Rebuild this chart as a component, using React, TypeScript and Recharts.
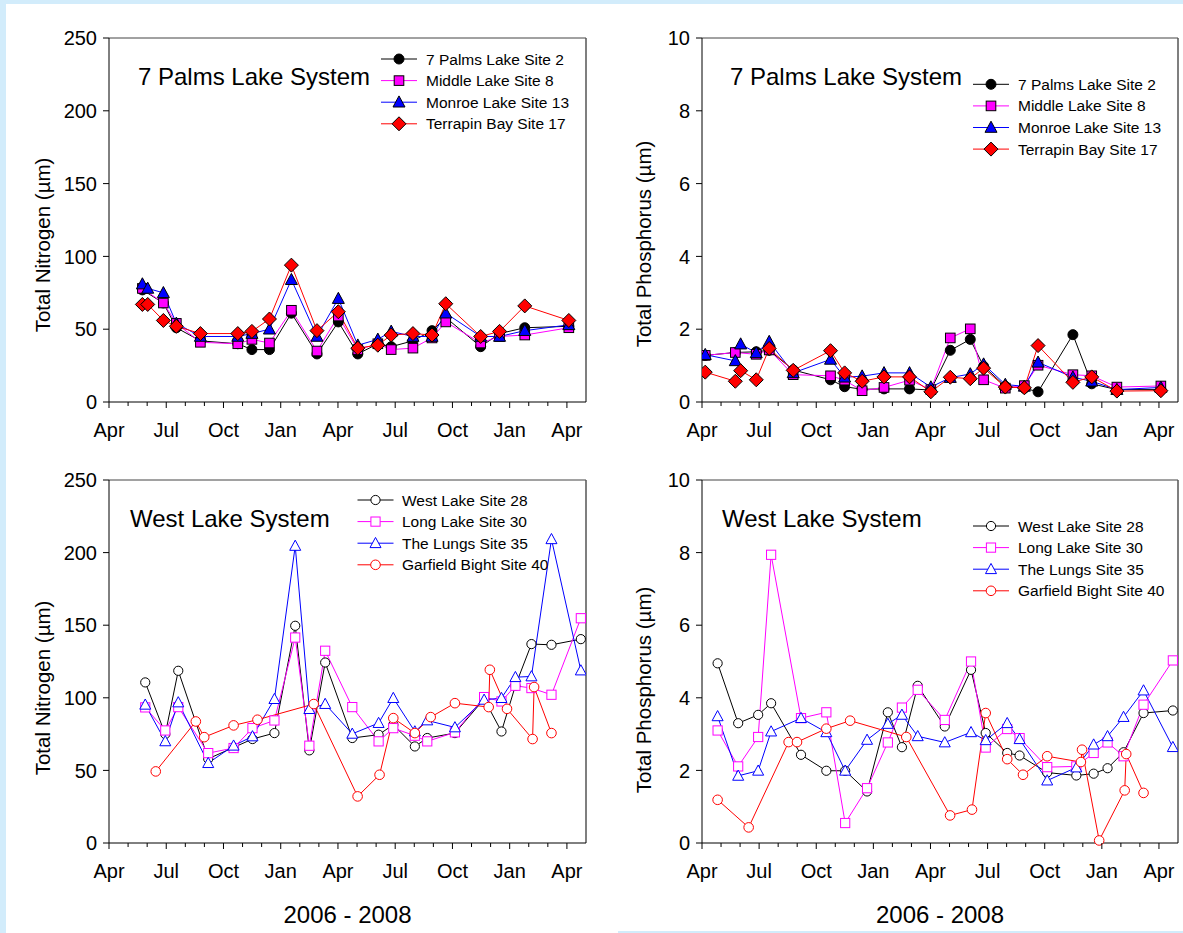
import React from 'react';
import { LineChart, Line, XAxis, YAxis, ReferenceLine } from 'recharts';

const FONT = 'Arial, "Liberation Sans", Helvetica, sans-serif';

// x values are months counted from 1 Apr 2006
const monthTicks = [0, 1, 2, 3, 4, 5, 6, 7, 8, 9, 10, 11, 12, 13, 14, 15, 16, 17, 18, 19, 20, 21, 22, 23, 24];
const monthLabels = ['Apr', 'Jul', 'Oct', 'Jan', 'Apr', 'Jul', 'Oct', 'Jan', 'Apr'];
const tnTicks = [0, 50, 100, 150, 200, 250];
const tpTicks = [0, 2, 4, 6, 8, 10];

// 7 Palms Lake System sampling dates
const palmsDates = [0.17, 1.75, 2.03, 2.85, 3.53, 4.79, 6.75, 7.49, 8.41, 9.56, 10.9, 12.02, 13.04, 14.09, 14.79, 15.93, 16.93, 17.65, 19.48, 20.47, 21.79, 24.1];
const tnSite2 = [null, 77, null, 68, 51, 42, 40, 36, 36, 61, 33, 55, 33, 40, 38, 42, 49, 58, 38, 47, 51, 52];
const tnSite8 = [null, 78, null, 68, 54, 41, 40, 43, 40.5, 63, 35, 59, 36, 40, 36, 37, 44, 55, 40.5, 45, 46, 51];
const tnSite13 = [null, 81, 78, 75, 54, 45, 45, 47, 50, 84, 45, 71, 39, 43, 48.5, 45, 45, 61, 45, 45, 49, 53];
const tnSite17 = [null, 67, 67, 56, 52, 47, 47, 48.5, 57, 94, 49, 62, 37, 39, 46, 47, 46, 67.5, 45, 48.5, 66, 56];
const tpSite2 = [1.28, 1.36, null, 1.38, 1.42, 0.88, 0.61, 0.42, 0.35, 0.36, 0.36, 0.33, 1.42, 1.72, 0.98, 0.43, 0.38, 0.28, 1.85, 0.5, 0.34, 0.34];
const tpSite8 = [1.28, 1.36, null, 1.31, 1.43, 0.75, 0.72, 0.6, 0.31, 0.4, 0.6, 0.34, 1.76, 2.01, 0.61, 0.38, 0.45, 1.01, 0.75, 0.72, 0.41, 0.44];
const tpSite13 = [1.3, 1.13, 1.59, 1.35, 1.66, 0.8, 1.17, 0.68, 0.71, 0.8, 0.8, 0.41, 0.67, 0.77, 1.04, 0.48, 0.43, 1.09, 0.68, 0.57, 0.34, 0.4];
const tpSite17 = [0.82, 0.57, 0.86, 0.61, 1.47, 0.87, 1.41, 0.8, 0.57, 0.69, 0.69, 0.28, 0.68, 0.64, 0.93, 0.41, 0.39, 1.55, 0.54, 0.69, 0.3, 0.31];

// West Lake System sampling dates
const westDates = [0.82, 1.9, 2.95, 3.63, 5.2, 6.53, 7.52, 8.67, 9.76, 10.5, 11.33, 12.75, 14.13, 14.9, 16.03, 16.68, 18.13, 19.66, 20.57, 21.3, 22.14, 23.19, 24.73];
const tnSite28 = [null, 110.6, 75, 118.6, 58, 65.8, 71.6, 75.7, 149.6, 63.8, 124.3, 72.3, 74.6, 81.4, 66.5, 72.3, 75.7, 99.1, 76.8, 108.3, 137, 136.5, 140.4];
const tnSite30 = [null, 93.4, 77.5, 93.6, 61.9, 65.4, 79.1, 84.4, 141.5, 67, 132.4, 93.6, 70, 79.1, 73.9, 70, 76.2, 100.5, 97.5, 108.3, 106.7, 102.1, 154.8];
const tnSite35 = [null, 95.2, 70, 96.8, 55, 67, 73.4, 99.1, 204.6, 92.2, 95.7, 75.2, 82.6, 99.8, 76.8, 84.4, 79.6, 98.6, 99.8, 114.2, 114.7, 209.2, 118.8];
const tpSite28 = [4.95, 3.3, 3.53, 3.85, 2.43, 1.99, 1.99, 1.42, 3.6, 2.64, 4.33, 3.21, 4.77, 3.03, 2.48, 2.41, 1.94, 1.86, 1.91, 2.06, 2.5, 3.58, 3.65];
const tpSite30 = [3.1, 2.11, 2.92, 7.94, 3.44, 3.6, 0.55, 1.51, 2.77, 3.73, 4.22, 3.39, 5.0, 2.63, 3.14, 2.89, 2.09, 2.11, 2.48, 2.77, 2.39, 3.81, 5.03];
const tpSite35 = [3.49, 1.85, 1.99, 3.07, 3.44, 3.05, 1.99, 2.84, 3.28, 3.53, 2.94, 2.77, 3.05, 2.83, 3.3, 2.86, 1.72, 2.08, 2.71, 2.94, 3.47, 4.2, 2.64];

// Garfield Bight was sampled on its own dates
const garfieldDates = [0.82, 2.45, 4.55, 4.99, 6.53, 7.78, 10.73, 13.03, 14.18, 14.9, 16.03, 16.86, 18.13, 19.9, 19.96, 20.86, 22.2, 22.28, 23.19];
const tnSite40 = [null, 49.3, 83.7, 72.9, 81, 84.9, 95.7, 32.1, 47, 86, 75.7, 86.7, 96.3, 93.6, 119.3, 92.4, 71.6, 107.4, 75.7];
const tpSite40 = [1.19, 0.43, 2.78, 2.78, 3.15, 3.37, 2.92, 0.76, 0.92, 3.58, 2.31, 1.88, 2.39, 2.23, 2.57, 0.07, 1.45, 2.45, 1.38];

const palmsNames = ['7 Palms Lake Site 2', 'Middle Lake Site 8', 'Monroe Lake Site 13', 'Terrapin Bay Site 17'];
const westNames = ['West Lake Site 28', 'Long Lake Site 30', 'The Lungs Site 35', 'Garfield Bight Site 40'];

const toPoints = (dates: number[], vals: (number | null)[]) =>
  dates.map((m, i) => ({ m, v: vals[i] })).filter((p) => p.v !== null);

type Shape = 'circle' | 'square' | 'triangle' | 'diamond';
interface Series { name: string; color: string; shape: Shape; fill: string; stroke: string; size: number; points: { m: number; v: number | null }[] }

const Marker = ({ shape, x, y, fill, stroke, s }: any) => {
  if (x == null || y == null || isNaN(x) || isNaN(y)) return <g />;
  const common = { fill, stroke, strokeWidth: 1 };
  if (shape === 'circle') return <circle cx={x} cy={y} r={s} {...common} />;
  if (shape === 'square') return <rect x={x - s} y={y - s} width={2 * s} height={2 * s} {...common} />;
  if (shape === 'triangle')
    return <polygon points={`${x},${y - s * 1.05} ${x + s},${y + s * 0.8} ${x - s},${y + s * 0.8}`} {...common} />;
  return <polygon points={`${x},${y - s} ${x + s},${y} ${x},${y + s} ${x - s},${y}`} {...common} />;
};

const palmsStyle = [
  { color: '#000000', shape: 'circle', fill: '#000000', stroke: '#000000', size: 5 },
  { color: '#ff00ff', shape: 'square', fill: '#ff00ff', stroke: '#000000', size: 4.8 },
  { color: '#0000ff', shape: 'triangle', fill: '#0000ff', stroke: '#000000', size: 6 },
  { color: '#ff0000', shape: 'diamond', fill: '#ff0000', stroke: '#000000', size: 7 },
];
const westStyle = [
  { color: '#000000', shape: 'circle', fill: '#ffffff', stroke: '#000000', size: 4.6 },
  { color: '#ff00ff', shape: 'square', fill: '#ffffff', stroke: '#ff00ff', size: 4.6 },
  { color: '#0000ff', shape: 'triangle', fill: '#ffffff', stroke: '#0000ff', size: 5.5 },
  { color: '#ff0000', shape: 'circle', fill: '#ffffff', stroke: '#ff0000', size: 4.8 },
];

const makeSeries = (names: string[], styles: any[], dates: number[][], vals: (number | null)[][]): Series[] =>
  names.map((name, i) => ({ name, ...styles[i], points: toPoints(dates[i], vals[i]) }));

const tnPalms = makeSeries(palmsNames, palmsStyle, [palmsDates, palmsDates, palmsDates, palmsDates], [tnSite2, tnSite8, tnSite13, tnSite17]);
const tpPalms = makeSeries(palmsNames, palmsStyle, [palmsDates, palmsDates, palmsDates, palmsDates], [tpSite2, tpSite8, tpSite13, tpSite17]);
const tnWest = makeSeries(westNames, westStyle, [westDates, westDates, westDates, garfieldDates], [tnSite28, tnSite30, tnSite35, tnSite40]);
const tpWest = makeSeries(westNames, westStyle, [westDates, westDates, westDates, garfieldDates], [tpSite28, tpSite30, tpSite35, tpSite40]);

interface PanelCfg {
  left: number; top: number; w: number; h: number; yMax: number; yTicks: number[]; series: Series[];
  title: string; titleX: number; titleY: number; legendLineX: number; legendTextX: number; legendY: number;
  yLabel: string; yLabelX: number; yLabelY: number;
}

const panels: PanelCfg[] = [
  { left: 109, top: 38, w: 477, h: 364, yMax: 250, yTicks: tnTicks, series: tnPalms, title: '7 Palms Lake System', titleX: 138, titleY: 85, legendLineX: 381, legendTextX: 426, legendY: 59, yLabel: 'Total Nitrogen (\u00b5m)', yLabelX: 42, yLabelY: 245 },
  { left: 702, top: 38, w: 476, h: 364, yMax: 10, yTicks: tpTicks, series: tpPalms, title: '7 Palms Lake System', titleX: 730, titleY: 85, legendLineX: 973, legendTextX: 1018, legendY: 84.3, yLabel: 'Total Phosphorus (\u00b5m)', yLabelX: 643, yLabelY: 244 },
  { left: 109, top: 480, w: 477, h: 363, yMax: 250, yTicks: tnTicks, series: tnWest, title: 'West Lake System', titleX: 130, titleY: 527, legendLineX: 357.5, legendTextX: 402, legendY: 500, yLabel: 'Total Nitrogen (\u00b5m)', yLabelX: 42, yLabelY: 688 },
  { left: 702, top: 480, w: 476, h: 363, yMax: 10, yTicks: tpTicks, series: tpWest, title: 'West Lake System', titleX: 722, titleY: 527, legendLineX: 973, legendTextX: 1018, legendY: 526, yLabel: 'Total Phosphorus (\u00b5m)', yLabelX: 643, yLabelY: 690 },
];

const PAD_L = 70;
const PAD_T = 10;
const X_H = 50;

const Panel = ({ cfg }: { cfg: PanelCfg }) => {
  const plotBottom = PAD_T + cfg.h;
  const XTick = (props: any) => {
    const { x, payload } = props;
    const v = payload.value as number;
    const major = v % 3 === 0;
    return (
      <g>
        <line x1={x} x2={x} y1={plotBottom} y2={plotBottom + (major ? 6 : 4)} stroke="#000" strokeWidth={1} />
        {major && (
          <text x={x} y={plotBottom + 35.3} textAnchor="middle" fontSize={20} fontFamily={FONT} fill="#000">
            {monthLabels[v / 3]}
          </text>
        )}
      </g>
    );
  };
  return (
    <div style={{ position: 'absolute', left: cfg.left - PAD_L, top: cfg.top - PAD_T }}>
      <LineChart
        width={cfg.w + PAD_L + 4}
        height={cfg.h + PAD_T + X_H}
        margin={{ top: PAD_T, right: 4, left: 10, bottom: 0 }}
      >
        <XAxis
          dataKey="m"
          type="number"
          domain={[0, 25]}
          ticks={monthTicks}
          interval={0}
          allowDataOverflow
          height={X_H}
          tickLine={false}
          tickSize={0}
          tickMargin={0}
          tick={XTick}
          axisLine={{ stroke: '#000', strokeWidth: 1 }}
        />
        <YAxis
          type="number"
          domain={[0, cfg.yMax]}
          ticks={cfg.yTicks}
          interval={0}
          width={60}
          tickSize={6}
          tickMargin={6}
          tick={{ fontSize: 20, fontFamily: FONT, fill: '#000' }}
          tickLine={{ stroke: '#000' }}
          axisLine={{ stroke: '#000', strokeWidth: 1 }}
        />
        <ReferenceLine y={cfg.yMax} stroke="#444" strokeWidth={1} ifOverflow="extendDomain" />
        <ReferenceLine x={25} stroke="#555" strokeWidth={1.5} ifOverflow="extendDomain" />
        {cfg.series.map((s) => (
          <Line
            key={s.name}
            data={s.points}
            dataKey="v"
            name={s.name}
            type="linear"
            stroke={s.color}
            strokeWidth={1}
            isAnimationActive={false}
            activeDot={false}
            dot={(p: any) => (
              <Marker key={`${s.name}-${p.index}`} shape={s.shape} x={p.cx} y={p.cy} fill={s.fill} stroke={s.stroke} s={s.size} />
            )}
          />
        ))}
      </LineChart>
    </div>
  );
};

const Overlay = () => (
  <svg width={1183} height={933} style={{ position: 'absolute', left: 0, top: 0, pointerEvents: 'none' }}>
    {panels.map((cfg, pi) => (
      <g key={pi} fontFamily={FONT} fill="#000">
        <text x={cfg.titleX} y={cfg.titleY} fontSize={24}>{cfg.title}</text>
        <text
          x={cfg.yLabelX}
          y={cfg.yLabelY}
          fontSize={20.5}
          textAnchor="middle"
          dominantBaseline="central"
          transform={`rotate(-90 ${cfg.yLabelX} ${cfg.yLabelY})`}
        >
          {cfg.yLabel}
        </text>
        {cfg.series.map((s, i) => {
          const y = cfg.legendY + i * 21.6;
          return (
            <g key={s.name}>
              <line x1={cfg.legendLineX} x2={cfg.legendLineX + 36} y1={y} y2={y} stroke={s.color} strokeWidth={1} />
              <Marker shape={s.shape} x={cfg.legendLineX + 18} y={y} fill={s.fill} stroke={s.stroke} s={s.size} />
              <text x={cfg.legendTextX} y={y + 5.5} fontSize={15.5}>{s.name}</text>
            </g>
          );
        })}
      </g>
    ))}
    <text x={347.5} y={922.7} fontSize={24} fontFamily={FONT} textAnchor="middle">2006 - 2008</text>
    <text x={940} y={922.7} fontSize={24} fontFamily={FONT} textAnchor="middle">2006 - 2008</text>
  </svg>
);

export default function App() {
  return (
    <div style={{ position: 'absolute', left: 0, top: 0, width: 1183, height: 933, overflow: 'hidden', background: '#d2ecfb' }}>
      <div style={{ position: 'absolute', left: 6, top: 4, width: 1177, height: 929, background: '#ffffff' }} />
      <div style={{ position: 'absolute', left: 618, top: 931, width: 565, height: 2, background: '#d2ecfb' }} />
      {panels.map((cfg, i) => (
        <Panel key={i} cfg={cfg} />
      ))}
      <Overlay />
    </div>
  );
}
